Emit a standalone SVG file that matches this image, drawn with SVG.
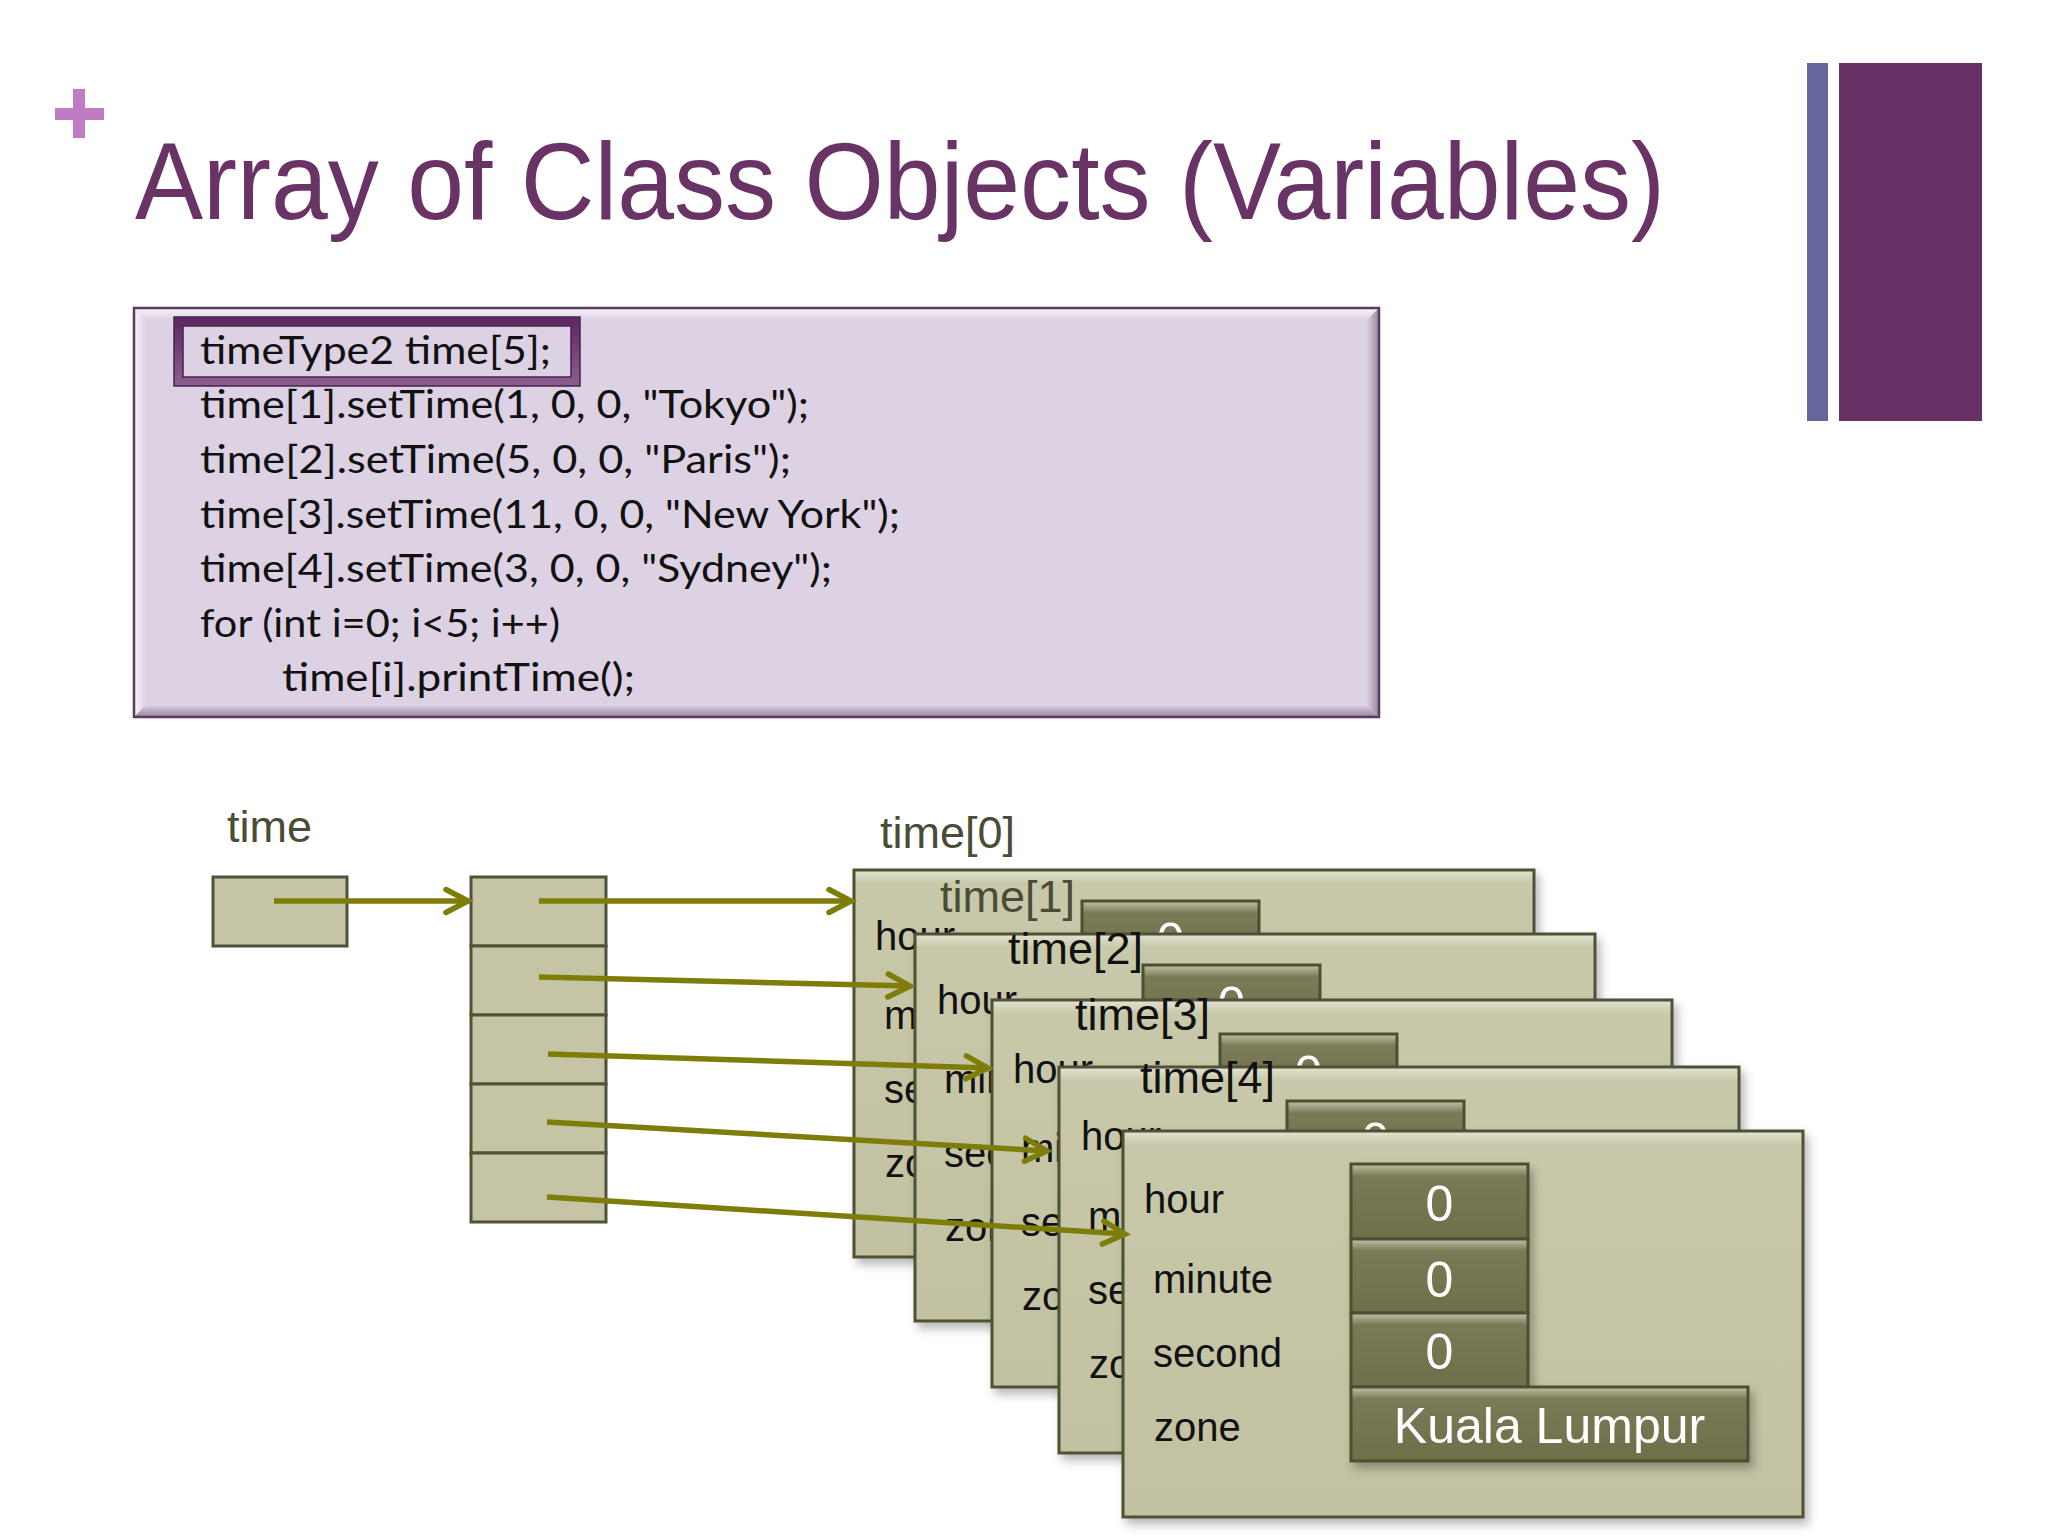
<svg xmlns="http://www.w3.org/2000/svg" width="2048" height="1536" viewBox="0 0 2048 1536">
  <defs>
    <style>
      .title { font-family: "Liberation Sans", Arial, sans-serif; font-size: 109px; fill: #693366; }
      .code { font-family: Lato, "Liberation Sans", sans-serif; font-size: 38px; fill: #111111; }
      .lbl { font-family: "Liberation Sans", Arial, sans-serif; font-size: 45px; fill: #4A4C35; }
      .lblk { font-family: "Liberation Sans", Arial, sans-serif; font-size: 45px; fill: #111111; }
      .fld { font-family: "Liberation Sans", Arial, sans-serif; font-size: 40px; fill: #111111; }
      .val { font-family: "Liberation Sans", Arial, sans-serif; font-size: 50px; fill: #FFFFFF; text-anchor: middle; }
      .card { fill: url(#cardGrad); stroke: #4F5136; stroke-width: 3; filter: url(#shadow); }
      .cell { fill: url(#cellGrad); stroke: #4D4E33; stroke-width: 3; }
      .slot { fill: #C5C5A6; stroke: #4F5236; stroke-width: 3; }
      .conn { fill: none; stroke: #7E7D0A; stroke-width: 5.5; marker-end: url(#chev); }
    </style>
    <marker id="chev" markerUnits="userSpaceOnUse" markerWidth="40" markerHeight="40" viewBox="-30 -20 40 40" refX="0" refY="0" orient="auto">
      <path d="M -22 -11.5 L 0 0 L -22 11.5" fill="none" stroke="#7E7D0A" stroke-width="5.5" stroke-linecap="round" stroke-linejoin="miter"/>
    </marker>
    <linearGradient id="cardGrad" x1="0" y1="0" x2="0" y2="1">
      <stop offset="0" stop-color="#E4E4D2"/>
      <stop offset="0.035" stop-color="#C8C8AA"/>
      <stop offset="1" stop-color="#C2C1A1"/>
    </linearGradient>
    <linearGradient id="cellGrad" x1="0" y1="0" x2="0" y2="1">
      <stop offset="0" stop-color="#C2C2A8"/>
      <stop offset="0.16" stop-color="#7B7A56"/>
      <stop offset="1" stop-color="#6E6E4A"/>
    </linearGradient>
    <linearGradient id="bevTop" x1="0" y1="0" x2="0" y2="1">
      <stop offset="0" stop-color="#F6F1F7"/>
      <stop offset="1" stop-color="#DCD2E3"/>
    </linearGradient>
    <linearGradient id="bevLeft" x1="0" y1="0" x2="1" y2="0">
      <stop offset="0" stop-color="#F6F1F7"/>
      <stop offset="1" stop-color="#DCD2E3"/>
    </linearGradient>
    <linearGradient id="bevBot" x1="0" y1="0" x2="0" y2="1">
      <stop offset="0" stop-color="#DCD2E3"/>
      <stop offset="1" stop-color="#9C89A0"/>
    </linearGradient>
    <linearGradient id="bevRight" x1="0" y1="0" x2="1" y2="0">
      <stop offset="0" stop-color="#DCD2E3"/>
      <stop offset="1" stop-color="#9C89A0"/>
    </linearGradient>
    <linearGradient id="frameGrad" x1="0" y1="0" x2="0" y2="1">
      <stop offset="0" stop-color="#5E2A61"/>
      <stop offset="1" stop-color="#8A5C8D"/>
    </linearGradient>
    <filter id="shadow" x="-5%" y="-5%" width="115%" height="115%">
      <feDropShadow dx="4" dy="6" stdDeviation="5" flood-color="#000000" flood-opacity="0.28"/>
    </filter>
  </defs>

  <rect width="2048" height="1536" fill="#FFFFFF"/>

  <!-- header decoration -->
  <g id="plus">
    <rect x="73" y="89" width="12" height="49" fill="#BF7BC3"/>
    <rect x="55" y="108" width="49" height="12" fill="#BF7BC3"/>
  </g>
  <text id="title" class="title" x="135" y="219" textLength="1530" lengthAdjust="spacingAndGlyphs">Array of Class Objects (Variables)</text>
  <g id="sidebars">
    <rect x="1807" y="63" width="21" height="358" fill="#67669A"/>
    <rect x="1839" y="63" width="143" height="358" fill="#673166"/>
  </g>

  <!-- code box -->
  <g id="codebox">
    <rect x="134" y="308" width="1245" height="409" fill="#DCD2E3"/>
    <polygon points="135,309 1378,309 1367,320 146,320" fill="url(#bevTop)"/>
    <polygon points="135,309 146,320 146,705 135,716" fill="url(#bevLeft)"/>
    <polygon points="135,716 146,705 1367,705 1378,716" fill="url(#bevBot)"/>
    <polygon points="1378,309 1367,320 1367,705 1378,716" fill="url(#bevRight)"/>
    <rect x="134" y="308" width="1245" height="409" fill="none" stroke="#5A3A62" stroke-width="2.5"/>
    <g id="decl-frame">
      <rect x="178.5" y="321.5" width="397" height="60" fill="none" stroke="url(#frameGrad)" stroke-width="9"/>
      <rect x="174" y="317" width="406" height="69" fill="none" stroke="#4A2050" stroke-width="1.5"/>
      <rect x="183" y="326" width="388" height="51" fill="none" stroke="#4A2050" stroke-width="1.5"/>
    </g>
    <text class="code" x="200" y="364" textLength="351" lengthAdjust="spacingAndGlyphs">timeType2 time[5];</text>
    <text class="code" x="200" y="418" textLength="609" lengthAdjust="spacingAndGlyphs">time[1].setTime(1, 0, 0, "Tokyo");</text>
    <text class="code" x="200" y="473" textLength="591" lengthAdjust="spacingAndGlyphs">time[2].setTime(5, 0, 0, "Paris");</text>
    <text class="code" x="200" y="528" textLength="700" lengthAdjust="spacingAndGlyphs">time[3].setTime(11, 0, 0, "New York");</text>
    <text class="code" x="200" y="582" textLength="632" lengthAdjust="spacingAndGlyphs">time[4].setTime(3, 0, 0, "Sydney");</text>
    <text class="code" x="200" y="637" textLength="360" lengthAdjust="spacingAndGlyphs">for (int i=0; i&lt;5; i++)</text>
    <text class="code" x="282" y="691" textLength="353" lengthAdjust="spacingAndGlyphs">time[i].printTime();</text>
  </g>

  <!-- pointer variable -->
  <g id="time-var">
    <text class="lbl" x="227" y="842">time</text>
    <rect class="slot" x="213" y="877" width="134" height="69"/>
  </g>

  <!-- array of 5 slots -->
  <g id="time-array">
    <rect class="slot" x="471" y="877" width="135" height="69"/>
    <rect class="slot" x="471" y="946" width="135" height="69"/>
    <rect class="slot" x="471" y="1015" width="135" height="69"/>
    <rect class="slot" x="471" y="1084" width="135" height="69"/>
    <rect class="slot" x="471" y="1153" width="135" height="69"/>
  </g>

  <!-- objects -->
  <g id="obj0" transform="translate(854,870)">
    <text class="lbl" x="26" y="-22">time[0]</text>
    <rect class="card" width="680" height="387"/>
    <rect class="cell" x="228" y="31" width="177" height="75"/>
    <text class="val" x="316.5" y="88">0</text>
    <text class="fld" x="21" y="80">hour</text>
    <text class="fld" x="30" y="159">minute</text>
    <text class="fld" x="30" y="233">second</text>
    <text class="fld" x="31" y="307">zone</text>
  </g>
  <g id="obj1" transform="translate(915,934)">
    <text class="lbl" x="25" y="-22">time[1]</text>
    <rect class="card" width="680" height="387"/>
    <rect class="cell" x="228" y="31" width="177" height="75"/>
    <text class="val" x="316.5" y="88">0</text>
    <text class="fld" x="22" y="80">hour</text>
    <text class="fld" x="29" y="159">minute</text>
    <text class="fld" x="29" y="233">second</text>
    <text class="fld" x="30" y="307">zone</text>
  </g>
  <g id="obj2" transform="translate(992,1000)">
    <text class="lblk" x="16" y="-36">time[2]</text>
    <rect class="card" width="680" height="387"/>
    <rect class="cell" x="228" y="34" width="177" height="75"/>
    <text class="val" x="316.5" y="91">0</text>
    <text class="fld" x="21" y="83">hour</text>
    <text class="fld" x="29" y="162">minute</text>
    <text class="fld" x="29" y="236">second</text>
    <text class="fld" x="30" y="310">zone</text>
  </g>
  <g id="obj3" transform="translate(1059,1067)">
    <text class="lblk" x="16" y="-37">time[3]</text>
    <rect class="card" width="680" height="386"/>
    <rect class="cell" x="228" y="34" width="177" height="75"/>
    <text class="val" x="316.5" y="91">0</text>
    <text class="fld" x="22" y="83">hour</text>
    <text class="fld" x="29" y="163">minute</text>
    <text class="fld" x="29" y="237">second</text>
    <text class="fld" x="30" y="311">zone</text>
  </g>
  <g id="obj4" transform="translate(1123,1131)">
    <text class="lblk" x="17" y="-38">time[4]</text>
    <rect class="card" width="680" height="386"/>
    <g filter="url(#shadow)">
      <rect class="cell" x="228" y="33" width="177" height="75"/>
      <rect class="cell" x="228" y="108" width="177" height="74"/>
      <rect class="cell" x="228" y="182" width="177" height="74"/>
      <rect class="cell" x="228" y="256" width="397" height="74"/>
    </g>
    <text class="fld" x="21" y="82">hour</text>
    <text class="fld" x="30" y="162">minute</text>
    <text class="fld" x="30" y="236">second</text>
    <text class="fld" x="31" y="310">zone</text>
    <text class="val" x="316.5" y="90">0</text>
    <text class="val" x="316.5" y="166">0</text>
    <text class="val" x="316.5" y="238">0</text>
    <text class="val" x="426.5" y="312">Kuala Lumpur</text>
  </g>

  <!-- connectors -->
  <g id="connectors">
    <path class="conn" d="M 274 901 L 468 901"/>
    <path class="conn" d="M 539 901 L 851 901"/>
    <path class="conn" d="M 539 977 L 910 986"/>
    <path class="conn" d="M 548 1054 L 988 1068"/>
    <path class="conn" d="M 547 1122 L 1047 1151"/>
    <path class="conn" d="M 547 1197 L 1125 1234"/>
  </g>
</svg>
